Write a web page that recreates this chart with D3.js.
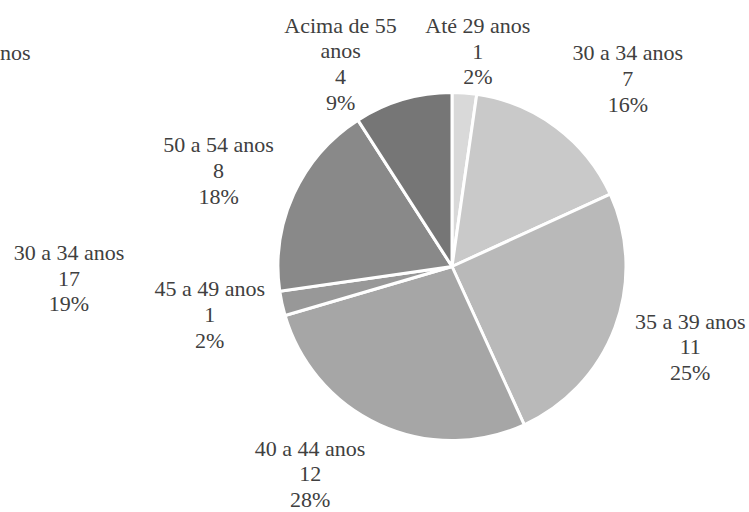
<!DOCTYPE html>
<html>
<head>
<meta charset="utf-8">
<script src="https://cdn.jsdelivr.net/npm/d3@7/dist/d3.min.js"></script>
</head>
<body style="margin:0;padding:0;background:#ffffff">
<svg id="chart" width="749" height="512" style="display:block"></svg>
<script>
// ---- data ----
const categories = ["Até 29 anos", "30 a 34 anos", "35 a 39 anos", "40 a 44 anos", "45 a 49 anos", "50 a 54 anos", "Acima de 55 anos"];
const labelLines = [["Até 29 anos"], ["30 a 34 anos"], ["35 a 39 anos"], ["40 a 44 anos"], ["45 a 49 anos"], ["50 a 54 anos"], ["Acima de 55", "anos"]];
const counts = [1, 7, 11, 12, 1, 8, 4];
const percentLabels = ["2%", "16%", "25%", "28%", "2%", "18%", "9%"];

// partial labels of a neighbouring chart visible at the left edge
const strayLabels = [["nos"], ["30 a 34 anos", "17", "19%"]];

// ---- layout / style ----
const cx = 452, cy = 266.5, radius = 174;
const colors = ["#d9d9d9", "#c9c9c9", "#b9b9b9", "#a6a6a6", "#989898", "#898989", "#767676"];
const labelRadius = 250;
const labelNudge = [[8, 34], [26, 12], [4, -7], [-38, -20], [2, -5], [-6, 8], [-41, 37]];
const fontFamily = "\"Times New Roman\"";
const fontSize = 22, lineH = 25.7, textColor = "#404040";
const strayPlacement = [{x: 0, y: 60, anchor: "start"}, {x: 69, y: 260, anchor: "middle"}];

const svg = d3.select("#chart");
const g = svg.append("g").attr("transform", `translate(${cx},${cy})`);

const pie = d3.pie().sort(null).value(d => d.value);
const data = categories.map((c, i) => ({cat: c, value: counts[i], i}));
const arcs = pie(data);
const arc = d3.arc().innerRadius(0).outerRadius(radius);
const labelArc = d3.arc().innerRadius(labelRadius).outerRadius(labelRadius);

g.selectAll("path.slice")
  .data(arcs)
  .join("path")
  .attr("class", "slice")
  .attr("d", arc)
  .attr("fill", d => colors[d.data.i])
  .attr("stroke", "#ffffff")
  .attr("stroke-width", 3)
  .attr("stroke-linejoin", "round");

function addLines(lines, x, b1, anchor) {
  lines.forEach((s, k) => {
    svg.append("text")
      .attr("x", x)
      .attr("y", b1 + k * lineH)
      .attr("font-size", fontSize)
      .style("font-family", fontFamily)
      .attr("text-anchor", anchor)
      .attr("fill", textColor)
      .text(s);
  });
}

arcs.forEach(d => {
  const i = d.data.i;
  const lines = labelLines[i].concat([String(counts[i]), percentLabels[i]]);
  const c = labelArc.centroid(d);
  const x = cx + c[0] + labelNudge[i][0];
  const mid = cy + c[1] + labelNudge[i][1];
  const b1 = mid - ((lines.length - 1) * lineH - 15) / 2;
  addLines(lines, x, b1, "middle");
});

strayLabels.forEach((lines, j) => {
  const p = strayPlacement[j];
  addLines(lines, p.x, p.y, p.anchor);
});
</script>
</body>
</html>
